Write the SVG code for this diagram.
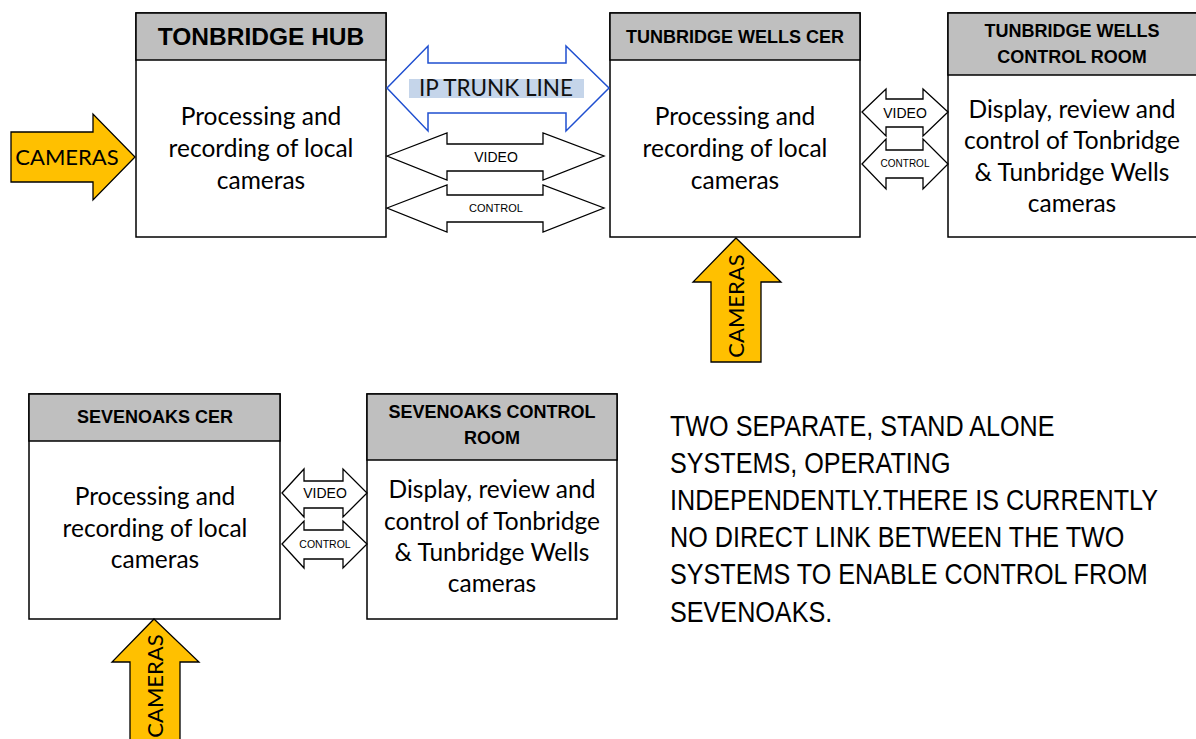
<svg xmlns="http://www.w3.org/2000/svg" width="1196" height="739" viewBox="0 0 1196 739">
<style>
.box{fill:#fff;stroke:#000;stroke-width:1.5}
.hdr{fill:#bfbfbf;stroke:#000;stroke-width:1.5}
.ht{font-family:"Liberation Sans",Arial,sans-serif;font-weight:bold;font-size:18px;text-anchor:middle;fill:#000}
.bt{font-family:Lato,"Open Sans",sans-serif;font-size:24.5px;text-anchor:middle;fill:#000}
.arr{fill:#fff;stroke:#000;stroke-width:1.3;stroke-linejoin:miter}
.ip{fill:#fff;stroke:#1f4fd0;stroke-width:1.5}
.cam{fill:#ffc000;stroke:#000;stroke-width:1.3}
.ct{font-family:Lato,"Open Sans",sans-serif;font-size:22px;text-anchor:middle;fill:#000}
.lv{font-family:"Liberation Sans",Arial,sans-serif;font-size:14px;text-anchor:middle;fill:#000}
.lc{font-family:"Liberation Sans",Arial,sans-serif;font-size:11px;text-anchor:middle;fill:#000}
.para{font-family:"Liberation Sans",Arial,sans-serif;font-size:29px;fill:#000}
</style>
<g id="tonbridge-hub">
<rect class="box" x="136" y="13" width="250" height="224"/>
<rect class="hdr" x="136" y="13" width="250" height="47"/>
<text class="ht" x="261" y="45" style="font-size:24.5px">TONBRIDGE HUB</text>
<text class="bt" x="261" y="125">Processing and</text>
<text class="bt" x="261" y="157">recording of local</text>
<text class="bt" x="261" y="189">cameras</text>
</g>
<g id="tunbridge-wells-cer">
<rect class="box" x="610" y="13" width="250" height="224"/>
<rect class="hdr" x="610" y="13" width="250" height="47"/>
<text class="ht" x="735" y="43">TUNBRIDGE WELLS CER</text>
<text class="bt" x="735" y="125">Processing and</text>
<text class="bt" x="735" y="157">recording of local</text>
<text class="bt" x="735" y="189">cameras</text>
</g>
<g id="tunbridge-wells-control-room">
<rect class="box" x="948" y="13" width="252" height="224"/>
<rect class="hdr" x="948" y="13" width="252" height="62"/>
<text class="ht" x="1072" y="37">TUNBRIDGE WELLS</text>
<text class="ht" x="1072" y="63">CONTROL ROOM</text>
<text class="bt" x="1072" y="118">Display, review and</text>
<text class="bt" x="1072" y="149">control of Tonbridge</text>
<text class="bt" x="1072" y="181">&amp; Tunbridge Wells</text>
<text class="bt" x="1072" y="212">cameras</text>
</g>
<g id="sevenoaks-cer">
<rect class="box" x="29" y="394" width="251" height="225"/>
<rect class="hdr" x="29" y="394" width="251" height="47"/>
<text class="ht" x="155" y="423">SEVENOAKS CER</text>
<text class="bt" x="155" y="505">Processing and</text>
<text class="bt" x="155" y="537">recording of local</text>
<text class="bt" x="155" y="568">cameras</text>
</g>
<g id="sevenoaks-control-room">
<rect class="box" x="367" y="394" width="250" height="225"/>
<rect class="hdr" x="367" y="394" width="250" height="66"/>
<text class="ht" x="492" y="418">SEVENOAKS CONTROL</text>
<text class="ht" x="492" y="444">ROOM</text>
<text class="bt" x="492" y="498">Display, review and</text>
<text class="bt" x="492" y="530">control of Tonbridge</text>
<text class="bt" x="492" y="561">&amp; Tunbridge Wells</text>
<text class="bt" x="492" y="592">cameras</text>
</g>
<g id="connectors">
<path class="ip" d="M387,88 L428,46 L428,63 L566,63 L566,46 L609,88 L566,131 L566,113 L428,113 L428,131 Z"/>
<rect x="409" y="79" width="175" height="19" fill="#c5d5ea"/>
<text x="496" y="96" font-family="Lato,'Open Sans',sans-serif" font-size="22.5" text-anchor="middle" fill="#111">IP TRUNK LINE</text>
<path class="arr" d="M387,156 L447,133 L447,144 L543,144 L543,133 L604,156 L543,180 L543,171 L447,171 L447,180 Z"/>
<text class="lv" x="496" y="162">VIDEO</text>
<path class="arr" d="M387,208 L447,185 L447,195 L543,195 L543,185 L604,208 L543,232 L543,222 L447,222 L447,232 Z"/>
<text class="lc" x="496" y="212">CONTROL</text>
<path class="arr" d="M862,112 L886,89 L886,99 L923,99 L923,89 L948,112 L923,136 L923,127 L886,127 L886,136 Z"/>
<text class="lv" x="905" y="118">VIDEO</text>
<path class="arr" d="M862,164 L886,139 L886,150 L923,150 L923,139 L948,164 L923,189 L923,178 L886,178 L886,189 Z"/>
<text class="lc" x="905" y="167" style="font-size:10px">CONTROL</text>
<path class="arr" d="M282,493 L304,469 L304,481 L343,481 L343,469 L367,493 L343,517 L343,508 L304,508 L304,517 Z"/>
<text class="lv" x="325" y="498">VIDEO</text>
<path class="arr" d="M282,544 L304,521 L304,530 L343,530 L343,521 L367,544 L343,568 L343,559 L304,559 L304,568 Z"/>
<text class="lc" x="325" y="548" style="font-size:10.5px">CONTROL</text>
<path class="cam" d="M11,132 L93,132 L93,114 L135,157 L93,200 L93,182 L11,182 Z"/>
<text class="ct" x="67" y="165">CAMERAS</text>
<path class="cam" d="M736,238 L781,282 L761,282 L761,362 L711,362 L711,282 L693,282 Z"/>
<text class="ct" transform="translate(744,306) rotate(-90)">CAMERAS</text>
<path class="cam" d="M154,619 L199,662 L180,662 L180,745 L130,745 L130,662 L112,662 Z"/>
<text class="ct" transform="translate(163,686) rotate(-90)">CAMERAS</text>
</g>
<g id="note" transform="translate(670,0) scale(0.868,1)">
<text class="para" x="0" y="436">TWO SEPARATE, STAND ALONE</text>
<text class="para" x="0" y="473">SYSTEMS, OPERATING</text>
<text class="para" x="0" y="510">INDEPENDENTLY.THERE IS CURRENTLY</text>
<text class="para" x="0" y="547">NO DIRECT LINK BETWEEN THE TWO</text>
<text class="para" x="0" y="584">SYSTEMS TO ENABLE CONTROL FROM</text>
<text class="para" x="0" y="622">SEVENOAKS.</text>
</g>
</svg>
